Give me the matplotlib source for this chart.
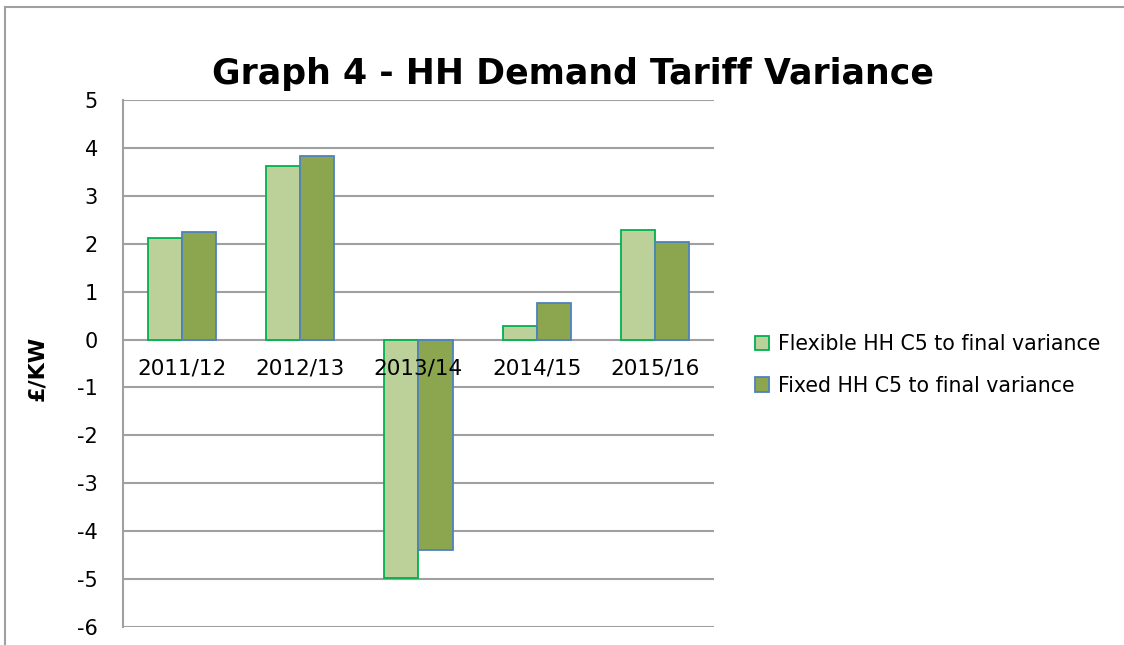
import numpy as np
import matplotlib.pyplot as plt
from matplotlib.lines import Line2D

years = ['2011/12', '2012/13', '2013/14', '2014/15', '2015/16']
flexible = [2.11, 3.62, -4.97, 0.28, 2.29]
fixed = [2.24, 3.83, -4.40, 0.76, 2.04]

plt.rcParams['axes.unicode_minus'] = False

fig = plt.figure(figsize=(11.24, 6.45), dpi=100)
ax = fig.add_axes([0.1094, 0.028, 0.5258, 0.817])

x = np.arange(len(years))
w = 0.288
ax.bar(x - w / 2, flexible, w, color='#BCD09A', edgecolor='#00B050', linewidth=1.3,
       label='Flexible HH C5 to final variance', zorder=3)
ax.bar(x + w / 2, fixed, w, color='#8BA64E', edgecolor='#4F81BD', linewidth=1.3,
       label='Fixed HH C5 to final variance', zorder=3)

ax.set_xlim(-0.5, len(years) - 0.5)
ax.set_ylim(-6, 5)
ax.set_yticks(range(-6, 6))
ax.yaxis.grid(True, color='#A0A0A0', linewidth=1.5, zorder=0)
ax.tick_params(axis='y', length=0, pad=18, labelsize=15)
ax.set_xticks([])
for i, lab in enumerate(years):
    ax.text(i, -0.4, lab, ha='center', va='top', fontsize=15.5, zorder=4)

for s in ['top', 'right', 'bottom']:
    ax.spines[s].set_visible(False)
ax.spines['left'].set_color('#A0A0A0')
ax.spines['left'].set_linewidth(1.5)

ax.set_ylabel('£/KW', fontsize=16, fontweight='bold')
ax.yaxis.set_label_coords(-0.128, 0.491)
fig.text(0.51, 0.885, 'Graph 4 - HH Demand Tariff Variance', ha='center', va='center',
         fontsize=25, fontweight='bold')

ax.legend(loc='center left', bbox_to_anchor=(1.038, 0.497), frameon=False, fontsize=14.8,
          handlelength=0.7, handleheight=0.7, handletextpad=0.4, labelspacing=1.05)

# outer chart frame
fig.add_artist(Line2D([0.0045, 0.0045], [0, 0.989], color='#A0A0A0', linewidth=1.5,
                      transform=fig.transFigure))
fig.add_artist(Line2D([0.0045, 1], [0.989, 0.989], color='#A0A0A0', linewidth=1.5,
                      transform=fig.transFigure))

fig.savefig('out.png', dpi=100)
